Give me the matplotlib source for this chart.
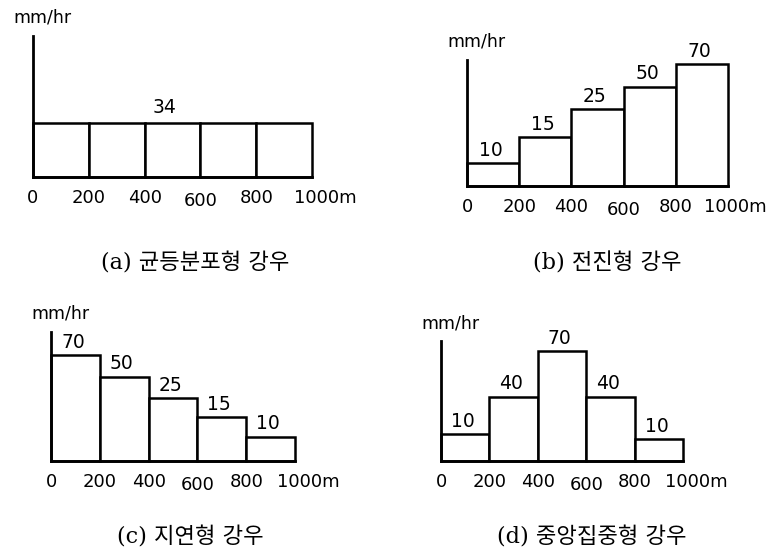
import matplotlib.pyplot as plt

# distance (m) where each block starts, block width 200 m
dist = [0, 200, 400, 600, 800]
tick_pos = [0, 200, 400, 600, 800, 1000]
tick_labels = ["0", "200", "400", "600", "800", "1000m"]

# intensities written on the blocks (mm/hr)
labels_a = [34]
labels_b = [10, 15, 25, 50, 70]
labels_c = [70, 50, 25, 15, 10]
labels_d = [10, 40, 70, 40, 10]

# block heights as drawn in the sketch (not to scale with the labels)
heights_a = [34, 34, 34, 34, 34]
heights_b = [13, 28, 44, 57, 70]
heights_c = [70, 55.5, 41.5, 29, 16]
heights_d = [17, 41, 70, 41, 14]

captions = ["(a) 균등분포형 강우", "(b) 전진형 강우", "(c) 지연형 강우", "(d) 중앙집중형 강우"]

W, H = 773, 552
fig = plt.figure(figsize=(W / 100, H / 100), dpi=100)

# panel boxes in pixels: left, right, top of y axis, baseline, y max
boxes = [(33, 312, 36, 177, 88.8),
         (467, 728, 60, 186, 72.3),
         (51, 295, 332, 461, 85.2),
         (441, 683, 341, 461, 76.4)]
caption_xy = [(195, 263), (607, 263), (190, 537), (592, 537)]
last_dx = [13, 7, 13, 13]

panels = [(heights_a, labels_a), (heights_b, labels_b),
          (heights_c, labels_c), (heights_d, labels_d)]

for (hts, labs), (x0, x1, yt, yb, ymax), cap, cxy, ldx in zip(panels, boxes, captions, caption_xy, last_dx):
    ax = fig.add_axes([x0 / W, 1 - yb / H, (x1 - x0) / W, (yb - yt) / H])
    ax.bar(dist, hts, width=200, align="edge", facecolor="white",
           edgecolor="black", linewidth=1.8, clip_on=False)
    ax.set_xlim(0, 1000)
    ax.set_ylim(0, ymax)
    ax.spines[["top", "right"]].set_visible(False)
    for s in ["left", "bottom"]:
        ax.spines[s].set_linewidth(2.0)
    ax.set_xticks([])
    ax.set_yticks([])

    # values on top of the blocks
    if len(labs) == 1:
        ax.annotate(str(labs[0]), (470, hts[0]), xytext=(0, 16), textcoords="offset pixels",
                    ha="center", va="center", fontsize=13.5)
    else:
        for x, h, v in zip(dist, hts, labs):
            ax.annotate(str(v), (x + 90, h), xytext=(0, 13), textcoords="offset pixels",
                        ha="center", va="center", fontsize=13.5)

    # distance labels under the axis
    for x, t in zip(tick_pos, tick_labels):
        dx = ldx if t.endswith("m") else 0
        dy = -24 if t == "600" else -21
        ax.annotate(t, (x, 0), xycoords=("data", "axes fraction"), xytext=(dx, dy),
                    textcoords="offset pixels", ha="center", va="center", fontsize=13)

    # unit label above the y axis
    ax.annotate("mm/hr", (0, 1), xycoords="axes fraction", xytext=(9, 18),
                textcoords="offset pixels", ha="center", va="center", fontsize=12.5)

    fig.text(cxy[0] / W, 1 - cxy[1] / H, cap, ha="center", va="center", fontsize=16,
             family=["DejaVu Serif", "Noto Sans CJK KR"])

fig.savefig("out.png", dpi=100, facecolor="white")
